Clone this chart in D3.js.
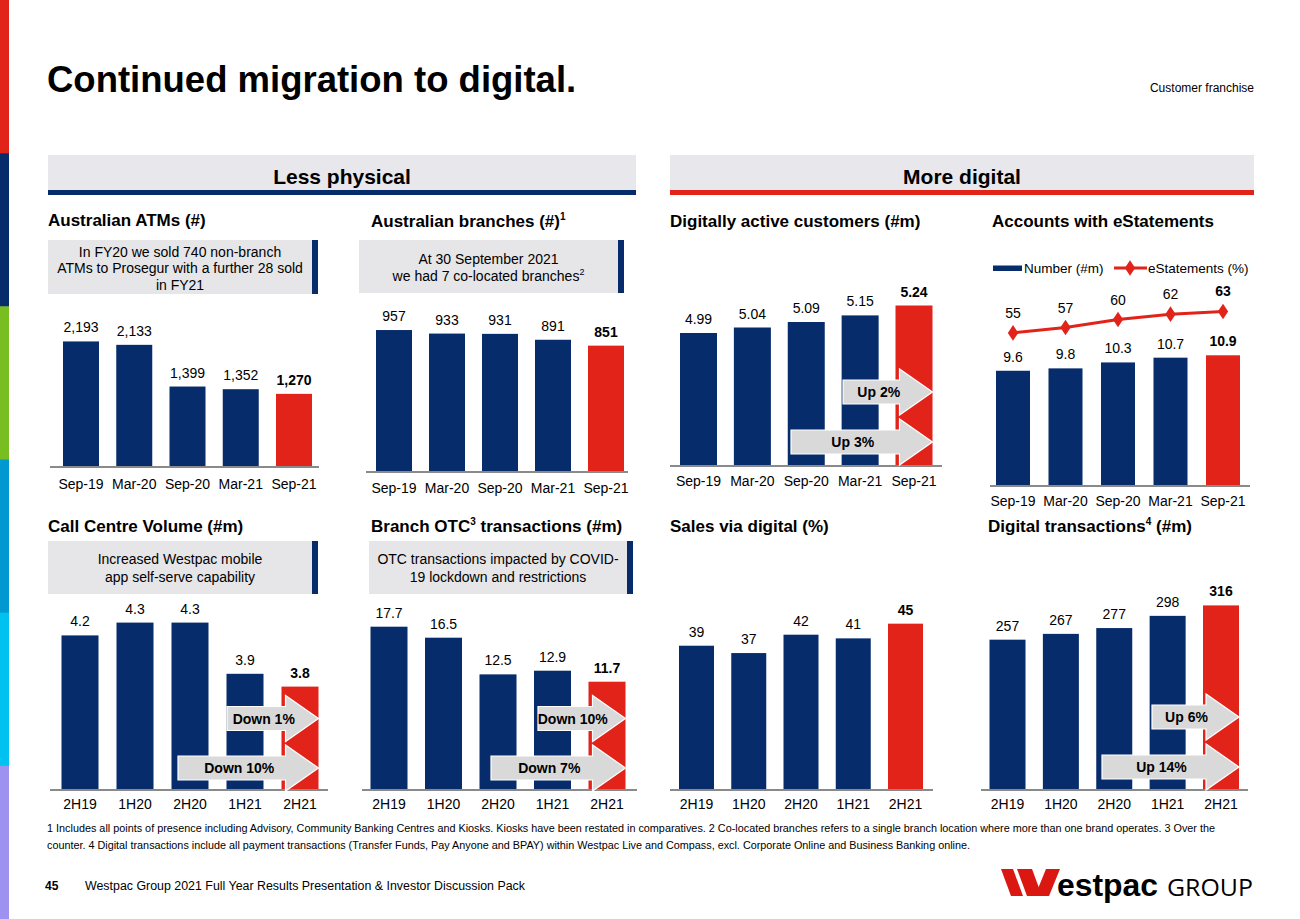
<!DOCTYPE html>
<html><head><meta charset="utf-8">
<script src="https://cdn.jsdelivr.net/npm/d3@7"></script>
<style>
body{margin:0;background:#fff}
svg{display:block}
text{font-family:"Liberation Sans",Arial,Helvetica,sans-serif;fill:#000}
</style></head>
<body><svg id="c" width="1300" height="919"></svg>
<script>
// ---------------- DATA ----------------
const dateCategories = ["Sep-19","Mar-20","Sep-20","Mar-21","Sep-21"];
const halfCategories = ["2H19","1H20","2H20","1H21","2H21"];
const atmValues = [2193, 2133, 1399, 1352, 1270];
const branchValues = [957, 933, 931, 891, 851];
const digitalCustomerValues = [4.99, 5.04, 5.09, 5.15, 5.24];
const eStatementNumbers = [9.6, 9.8, 10.3, 10.7, 10.9];
const eStatementPercents = [55, 57, 60, 62, 63];
const callCentreValues = [4.2, 4.3, 4.3, 3.9, 3.8];
const otcValues = [17.7, 16.5, 12.5, 12.9, 11.7];
const salesDigitalValues = [39, 37, 42, 41, 45];
const digitalTxValues = [257, 267, 277, 298, 316];
const digitalCustomerArrows = ["Up 2%", "Up 3%"];
const callCentreArrows = ["Down 1%", "Down 10%"];
const otcArrows = ["Down 10%", "Down 7%"];
const digitalTxArrows = ["Up 6%", "Up 14%"];
const legendLabels = ["Number (#m)", "eStatements (%)"];
const footnoteLines = [
 "1 Includes all points of presence including Advisory, Community Banking Centres and Kiosks. Kiosks have been restated in comparatives. 2 Co-located branches refers to a single branch location where more than one brand operates. 3 Over the",
 "counter. 4 Digital transactions include all payment transactions (Transfer Funds, Pay Anyone and BPAY) within Westpac Live and Compass, excl. Corporate Online and Business Banking online."
];

// ---------------- STYLE ----------------
const NAVY = "#062c6b", RED = "#e2231a", BAND = "#e8e7eb", NOTE = "#e6e6e8", ARROW = "#d9d9d9", AXIS = "#8a8a8a";
const svg = d3.select("#c");

// left colour strip
const stripColors = ["#e2231a","#062c6b","#78be20","#0098d0","#00c2f0","#9e92f0"];
svg.selectAll("rect.strip").data(stripColors).join("rect")
  .attr("x",0).attr("y",(d,i)=>i*919/6).attr("width",9).attr("height",919/6+0.5).attr("fill",d=>d);

// title
svg.append("text").attr("x",47).attr("y",92).attr("font-size",36.5).attr("font-weight","bold").text("Continued migration to digital.");
svg.append("text").attr("x",1254).attr("y",92).attr("text-anchor","end").attr("font-size",12).text("Customer franchise");

// section bands
function band(x0,x1,label,lineColor){
  svg.append("rect").attr("x",x0).attr("y",155).attr("width",x1-x0).attr("height",36).attr("fill",BAND);
  svg.append("rect").attr("x",x0).attr("y",190).attr("width",x1-x0).attr("height",5).attr("fill",lineColor);
  svg.append("text").attr("x",(x0+x1)/2).attr("y",184).attr("text-anchor","middle").attr("font-size",21).attr("font-weight","bold").text(label);
}
band(48,636,"Less physical",NAVY);
band(670,1254,"More digital",RED);

// panel titles
function title(x,y,parts){
  const t = svg.append("text").attr("x",x).attr("y",y).attr("font-size",17).attr("font-weight","bold");
  let raised=false;
  parts.forEach(p=>{
    if(typeof p==="string"){
      const s=t.append("tspan").text(p);
      if(raised){ s.attr("dy",7); raised=false; }
    } else {
      t.append("tspan").attr("font-size",10).attr("dy",-7).text(p.sup);
      raised=true;
    }
  });
}
title(48,226,["Australian ATMs (#)"]);
title(371,227,["Australian branches (#)",{sup:"1"}]);
title(670,227,["Digitally active customers (#m)"]);
title(992,227,["Accounts with eStatements"]);
title(48,532,["Call Centre Volume (#m)"]);
title(371,532,["Branch OTC",{sup:"3"}," transactions (#m)"]);
title(670,532,["Sales via digital (%)"]);
title(988,532,["Digital transactions",{sup:"4"}," (#m)"]);

// note boxes
function note(x0,x1,y0,y1,lines,firstBase,lh){
  svg.append("rect").attr("x",x0).attr("y",y0).attr("width",x1-x0).attr("height",y1-y0).attr("fill",NOTE);
  svg.append("rect").attr("x",x1-6).attr("y",y0).attr("width",6).attr("height",y1-y0).attr("fill",NAVY);
  const cx=(x0+x1-6)/2;
  lines.forEach((l,i)=>{
    const t=svg.append("text").attr("x",cx).attr("y",firstBase+i*lh).attr("text-anchor","middle").attr("font-size",14).attr("fill","#1a1a1a");
    if(typeof l==="string") t.text(l);
    else { t.append("tspan").text(l[0]); t.append("tspan").attr("font-size",9).attr("dy",-6).text(l[1]); }
  });
}
note(48,318,240,294,["In FY20 we sold 740 non-branch","ATMs to Prosegur with a further 28 sold","in FY21"],256.5,16.7);
note(359,624,240,293,["At 30 September 2021",["we had 7 co-located branches","2"]],264,17);
note(48,318,541,594,["Increased Westpac mobile","app self-serve capability"],564,17.5);
note(369,633,541,594,["OTC transactions impacted by COVID-","19 lockdown and restrictions"],564,17.5);

// ---------------- BAR PANELS ----------------
function barPanel(o){
  const step=(o.cx4-o.cx0)/4, p=1-o.bw/step;
  const x=d3.scaleBand().domain(o.cats).range([o.cx0-step/2,o.cx4+step/2]).paddingInner(p).paddingOuter(p/2);
  const y=d3.scaleLinear().domain(o.domain).range([o.base,o.top]);
  const g=svg.append("g");
  const data=o.cats.map((c,i)=>({c,v:o.values[i],last:i===o.cats.length-1}));
  g.selectAll("rect.bar").data(data).join("rect")
    .attr("x",d=>x(d.c)).attr("width",x.bandwidth())
    .attr("y",d=>y(d.v)).attr("height",d=>o.base-y(d.v))
    .attr("fill",d=>d.last?RED:NAVY);
  g.selectAll("text.val").data(data).join("text")
    .attr("x",d=>x(d.c)+x.bandwidth()/2).attr("y",d=>y(d.v)-9)
    .attr("text-anchor","middle").attr("font-size",14)
    .attr("font-weight",d=>d.last?"bold":"normal")
    .text(d=>o.fmt(d.v));
  // baseline
  g.append("line").attr("x1",o.ax0).attr("x2",o.ax1).attr("y1",o.base+1).attr("y2",o.base+1).attr("stroke",AXIS).attr("stroke-width",2);
  // axis labels
  const ax=g.append("g").attr("transform",`translate(0,${o.base})`)
    .call(d3.axisBottom(x).tickSize(0).tickPadding(o.tickPad));
  ax.select(".domain").remove();
  ax.selectAll("text").attr("font-size",14).attr("fill","#000").attr("font-family",'"Liberation Sans",Arial,sans-serif');
  // arrows
  if(o.arrows){
    const tip=x(o.cats[4])+x.bandwidth();
    const head=tip-33;
    o.arrows.forEach((lab,i)=>{
      const a=o.arrowPos[i], cy=a.cy, bh=12, hh=23;
      const pts=[[a.left,cy-bh],[head,cy-bh],[head,cy-hh],[tip,cy],[head,cy+hh],[head,cy+bh],[a.left,cy+bh]];
      g.append("path").attr("d","M"+pts.map(q=>q.join(",")).join("L")+"Z")
        .attr("fill",ARROW).attr("stroke","#fff").attr("stroke-width",1.2);
      g.append("text").attr("x",(a.left+tip)/2-9).attr("y",cy+5).attr("text-anchor","middle")
        .attr("font-size",14).attr("font-weight","bold").attr("fill","#1a1a1a").text(lab);
    });
  }
  return {x,y};
}

const fComma=d3.format(","), f1=d3.format(".1f"), f2=d3.format(".2f"), f0=d3.format("d");

barPanel({cats:dateCategories,values:atmValues,fmt:fComma,cx0:81,cx4:294,bw:36,base:466,domain:[0,2500],top:466-2500*0.0568,ax0:50,ax1:319,tickPad:13});
barPanel({cats:dateCategories,values:branchValues,fmt:fComma,cx0:394,cx4:606,bw:36,base:471,domain:[0,1000],top:471-1000*0.1473,ax0:366,ax1:628,tickPad:12});
barPanel({cats:dateCategories,values:digitalCustomerValues,fmt:f2,cx0:698.5,cx4:914,bw:37,base:465,domain:[3.79,5.3],top:465-(5.3-3.79)*110,ax0:670,ax1:942,tickPad:11,
  arrows:digitalCustomerArrows,arrowPos:[{left:843,cy:392},{left:791,cy:442}]});
const es=barPanel({cats:dateCategories,values:eStatementNumbers,fmt:f1,cx0:1013,cx4:1223,bw:34,base:485,domain:[0,12],top:485-12*11.9,ax0:990,ax1:1250,tickPad:11});
barPanel({cats:halfCategories,values:callCentreValues,fmt:f1,cx0:80,cx4:300,bw:37,base:789,domain:[3.0,4.5],top:789-1.5*128,ax0:50,ax1:328,tickPad:10,
  arrows:callCentreArrows,arrowPos:[{left:227,cy:718.5},{left:178,cy:768}]});
barPanel({cats:halfCategories,values:otcValues,fmt:f1,cx0:389,cx4:607,bw:37,base:789,domain:[0,20],top:789-20*9.17,ax0:362,ax1:637,tickPad:10,
  arrows:otcArrows,arrowPos:[{left:538,cy:718.5},{left:491,cy:768}]});
barPanel({cats:halfCategories,values:salesDigitalValues,fmt:f0,cx0:696.5,cx4:905.5,bw:35,base:789,domain:[0,50],top:789-50*3.674,ax0:670,ax1:933,tickPad:10});
barPanel({cats:halfCategories,values:digitalTxValues,fmt:f0,cx0:1007.5,cx4:1221,bw:36,base:789,domain:[0,350],top:789-350*0.581,ax0:981,ax1:1248,tickPad:10,
  arrows:digitalTxArrows,arrowPos:[{left:1152,cy:717},{left:1102,cy:767}]});

// eStatements line (secondary scale)
const yPct=d3.scaleLinear().domain([0,100]).range([480,480-100*2.675]);
const pctData=dateCategories.map((c,i)=>({c,v:eStatementPercents[i],last:i===4}));
const cxOf=c=>es.x(c)+es.x.bandwidth()/2;
svg.append("path").datum(pctData)
  .attr("d",d3.line().x(d=>cxOf(d.c)).y(d=>yPct(d.v)))
  .attr("fill","none").attr("stroke",RED).attr("stroke-width",3);
svg.selectAll("path.dia").data(pctData).join("path")
  .attr("d",d3.symbol(d3.symbolDiamond,70))
  .attr("transform",d=>`translate(${cxOf(d.c)},${yPct(d.v)}) scale(1.15,1)`)
  .attr("fill",RED);
svg.selectAll("text.pct").data(pctData).join("text")
  .attr("x",d=>cxOf(d.c)).attr("y",d=>yPct(d.v)-15)
  .attr("text-anchor","middle").attr("font-size",14)
  .attr("font-weight",d=>d.last?"bold":"normal").text(d=>f0(d.v));

// legend
svg.append("rect").attr("x",993).attr("y",265.5).attr("width",29).attr("height",5.5).attr("fill",NAVY);
svg.append("text").attr("x",1024).attr("y",273).attr("font-size",13.5).text(legendLabels[0]);
svg.append("line").attr("x1",1114).attr("x2",1147).attr("y1",268).attr("y2",268).attr("stroke",RED).attr("stroke-width",3);
svg.append("path").attr("d",d3.symbol(d3.symbolDiamond,70)).attr("transform","translate(1130,268) scale(1.15,1)").attr("fill",RED);
svg.append("text").attr("x",1148).attr("y",273).attr("font-size",13.5).text(legendLabels[1]);

// footnotes
svg.append("text").attr("x",47).attr("y",832).attr("font-size",10.2).attr("fill","#111").attr("textLength",1168).attr("lengthAdjust","spacingAndGlyphs").text(footnoteLines[0]);
svg.append("text").attr("x",47).attr("y",849).attr("font-size",10.2).attr("fill","#111").attr("textLength",923).attr("lengthAdjust","spacingAndGlyphs").text(footnoteLines[1]);

// footer
svg.append("text").attr("x",45).attr("y",890).attr("font-size",12).attr("font-weight","bold").text("45");
svg.append("text").attr("x",85).attr("y",890).attr("font-size",12.5).attr("textLength",440).attr("lengthAdjust","spacingAndGlyphs").text("Westpac Group 2021 Full Year Results Presentation & Investor Discussion Pack");

// logo
const logoRed="#da1710";
const wPolys=[
  [[1001,869],[1013,869],[1023,896],[1011,896]],
  [[1017,869],[1032,869],[1042,896],[1027,896]],
  [[1035,896],[1049,896],[1060,869],[1046,869]]
];
svg.selectAll("path.w").data(wPolys).join("path").attr("d",d=>"M"+d.map(q=>q.join(",")).join("L")+"Z").attr("fill",logoRed);
svg.append("text").attr("x",1057).attr("y",896).attr("font-size",31).attr("font-weight","bold").attr("fill",logoRed).attr("textLength",101).attr("lengthAdjust","spacingAndGlyphs").text("estpac");
svg.append("text").attr("x",1167).attr("y",896).attr("font-size",23.5).attr("fill","#6d6e71").attr("textLength",86).attr("lengthAdjust","spacingAndGlyphs").style("font-family","'Open Sans',Lato,sans-serif").text("GROUP");
</script></body></html>
